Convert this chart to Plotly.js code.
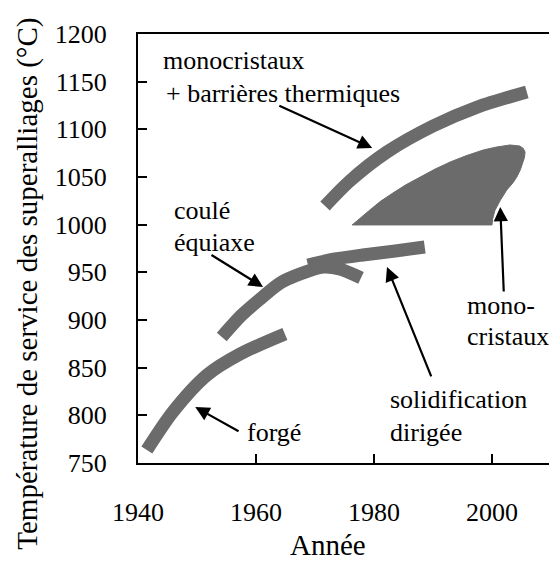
<!DOCTYPE html>
<html>
<head>
<meta charset="utf-8">
<script src="https://cdn.plot.ly/plotly-3.0.1.min.js"></script>
<style>html,body{margin:0;padding:0;background:#fff;}#chart{width:549px;height:561px;}</style>
</head>
<body>
<div id="chart"></div>
<script>
// Bands (year, temperature °C)
const forgeYears   = [1941.5, 1945.9, 1951.7, 1957.3, 1964.9];
const forgeTemps   = [763.6, 803.5, 842.3, 864.3, 885.3];

const couleYears   = [1954.2, 1957.6, 1960.7, 1964.1, 1967.5, 1971.4, 1974.2, 1977.8];
const couleTemps   = [882.2, 905.3, 922.0, 938.8, 948.3, 955.6, 953.5, 944.1];

const solidYears   = [1968.8, 1973.4, 1978.1, 1983.6, 1988.6];
const solidTemps   = [957.7, 964.0, 968.2, 972.4, 976.6];

const monoTBYears  = [1971.7, 1975.9, 1982.2, 1990.0, 1997.5, 2005.9];
const monoTBTemps  = [1019.6, 1045.8, 1076.2, 1103.5, 1123.4, 1139.2];

const monoYears    = [1976.3, 2000.0, 2000.1, 2000.5, 2001.4, 2002.5, 2003.5, 2004.2, 2004.8, 2005.25, 2005.5, 2005.6, 2005.3, 2004.7, 2003.05, 2000.8, 1998.5, 1995.6, 1992.9, 1990.3, 1987.8, 1985.4, 1983.2, 1981.1, 1979.3, 1977.7, 1976.3];
const monoTemps    = [999.7, 999.7, 1006.0, 1015.0, 1025.5, 1036.4, 1043.5, 1050.0, 1057.5, 1064.7, 1070.5, 1076.2, 1080.0, 1082.5, 1083.6, 1081.5, 1078.3, 1072.3, 1065.7, 1058.2, 1050.0, 1041.8, 1033.2, 1024.5, 1015.4, 1007.5, 999.7];

const xTicks = [1940, 1960, 1980, 2000];
const yTicks = [750, 800, 850, 900, 950, 1000, 1050, 1100, 1150, 1200];

const labels = [
  {text: 'monocristaux', x: 1943.9, y: 1172.7},
  {text: '+ barrières thermiques', x: 1944.4, y: 1138.1},
  {text: 'coulé', x: 1945.8, y: 1014.5},
  {text: 'équiaxe', x: 1945.8, y: 981.8},
  {text: 'forgé', x: 1958.1, y: 781.5},
  {text: 'solidification', x: 1982.4, y: 816.1},
  {text: 'dirigée', x: 1982.4, y: 782.5},
  {text: 'mono-', x: 1995.4, y: 914.7},
  {text: 'cristaux', x: 1995.4, y: 883.2}
];
// arrows: [tailX, tailY, tipX, tipY]
const arrows = [
  [1963.7, 1125.5, 1979.7, 1080.4],
  [1952.2, 969.2, 1961.2, 934.6],
  [1957.3, 782.5, 1949.7, 808.7],
  [1989.8, 839.2, 1982.2, 955.6],
  [2002.0, 928.3, 2001.4, 1018.5]
];

const GRAY = '#6b6b6b';
const FONT = 'Liberation Serif';

function band(xs, ys) {
  return {x: xs, y: ys, mode: 'lines', type: 'scatter', hoverinfo: 'skip',
          line: {color: GRAY, width: 13, shape: 'spline', smoothing: 0.8}, showlegend: false};
}

const traces = [
  band(forgeYears, forgeTemps),
  band(couleYears, couleTemps),
  band(solidYears, solidTemps),
  band(monoTBYears, monoTBTemps),
  {x: monoYears, y: monoTemps, mode: 'lines', type: 'scatter', fill: 'toself', fillcolor: GRAY,
   line: {color: GRAY, width: 1}, hoverinfo: 'skip', showlegend: false}
];

const annotations = [];
labels.forEach(l => annotations.push({
  text: l.text, x: l.x, y: l.y, xref: 'x', yref: 'y', xanchor: 'left', yanchor: 'middle',
  showarrow: false, font: {family: FONT, size: 26, color: '#000'}
}));
arrows.forEach(a => annotations.push({
  text: '', x: a[2], y: a[3], ax: a[0], ay: a[1], xref: 'x', yref: 'y', axref: 'x', ayref: 'y',
  showarrow: true, arrowhead: 2, arrowsize: 1.3, arrowwidth: 2.2, arrowcolor: '#000', standoff: 0
}));
annotations.push({text: 'Année', xref: 'paper', yref: 'paper', x: 0.462, y: -0.191,
  xanchor: 'center', yanchor: 'middle', showarrow: false, font: {family: FONT, size: 29, color: '#000'}});
annotations.push({text: 'Température de service des superalliages (°C)', xref: 'paper', yref: 'paper',
  x: -0.2676, y: 0.418, textangle: -90, xanchor: 'center', yanchor: 'middle', showarrow: false,
  font: {family: FONT, size: 29, color: '#000'}});

const layout = {
  width: 549, height: 561,
  margin: {l: 138, r: 0, t: 34, b: 98},
  paper_bgcolor: '#fff', plot_bgcolor: '#fff',
  font: {family: FONT, size: 26, color: '#000'},
  showlegend: false,
  xaxis: {range: [1940, 2009.66], tickvals: xTicks, ticktext: xTicks.map(String), ticks: 'inside', ticklen: 9, tickwidth: 2,
          tickcolor: '#000', showline: true, linecolor: '#000', linewidth: 2, mirror: true,
          showgrid: false, zeroline: false, ticklabelstandoff: 25,
          tickfont: {family: FONT, size: 26, color: '#000'}},
  yaxis: {range: [750, 1200], tickvals: yTicks, ticktext: yTicks.map(String), ticks: 'inside', ticklen: 9, tickwidth: 2,
          tickcolor: '#000', showline: true, linecolor: '#000', linewidth: 2,
          showgrid: false, zeroline: false, ticklabelstandoff: 24,
          tickfont: {family: FONT, size: 26, color: '#000'}},
  annotations: annotations
};

Plotly.newPlot('chart', traces, layout, {staticPlot: true, displayModeBar: false});
</script>
</body>
</html>
